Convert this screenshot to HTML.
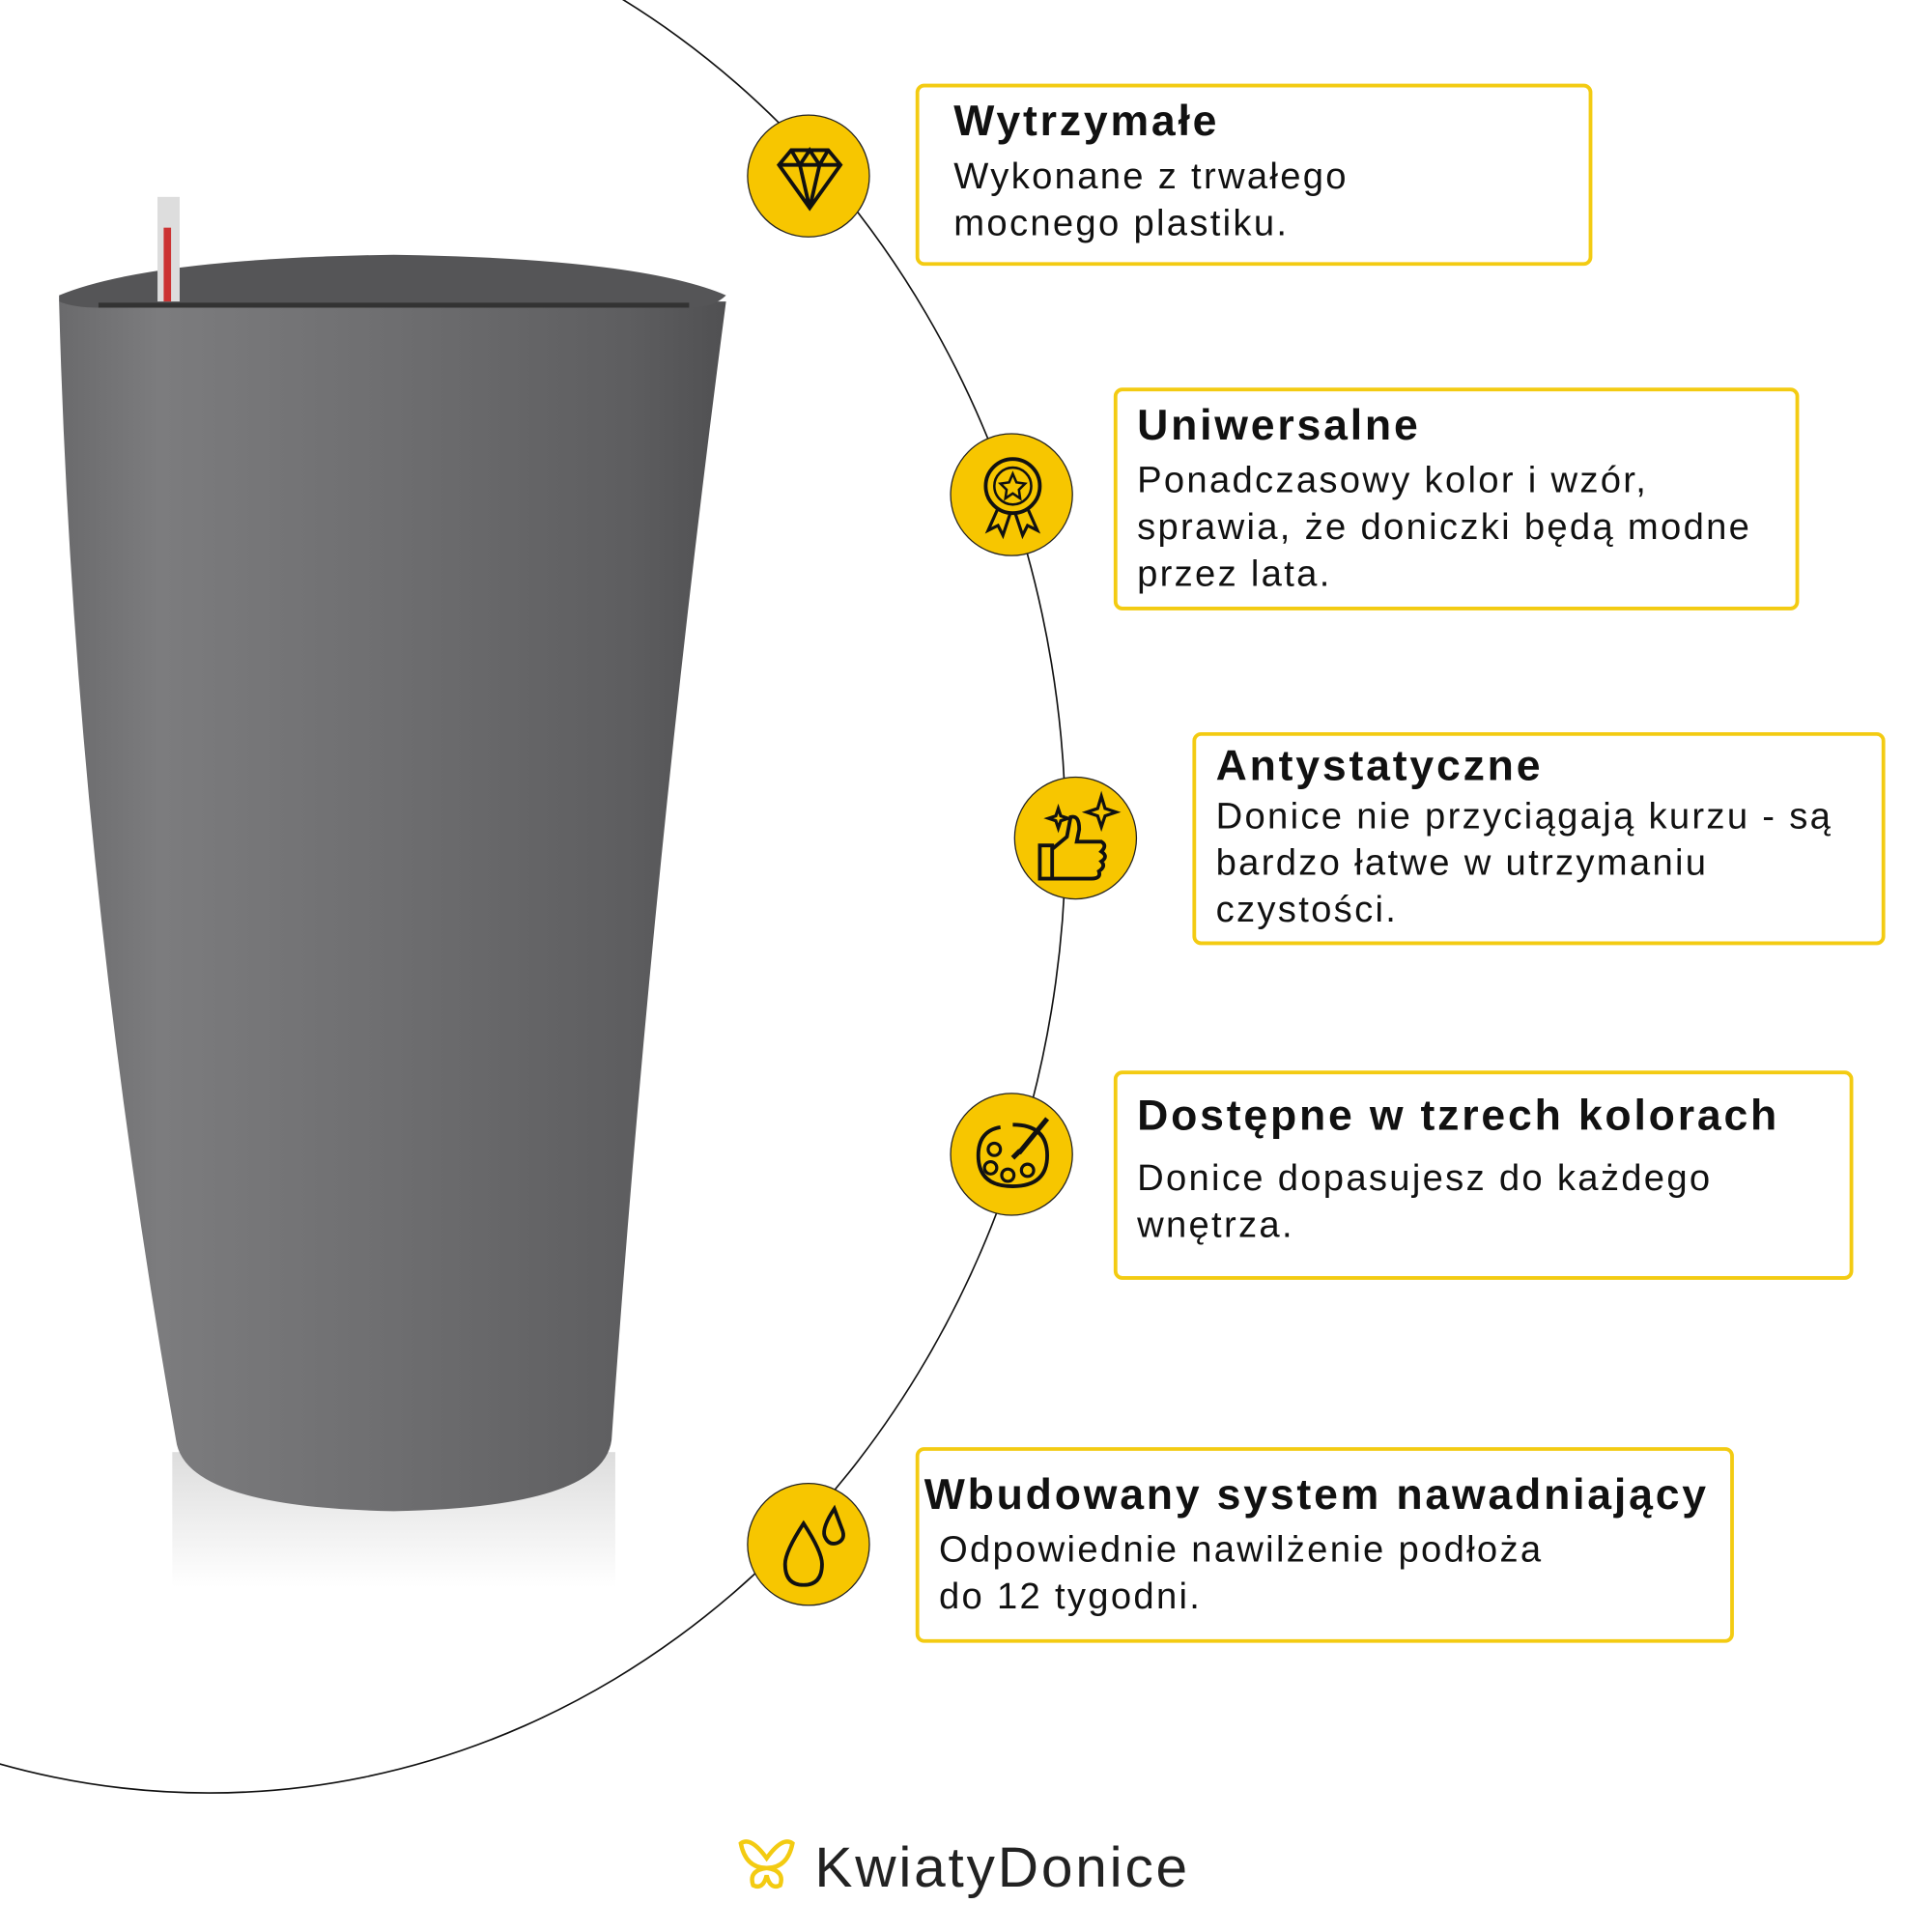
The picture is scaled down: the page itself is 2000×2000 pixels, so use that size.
<!DOCTYPE html>
<html><head><meta charset="utf-8"><style>
html,body{margin:0;padding:0;background:#fff;}
#w{width:1570px;height:1570px;position:relative;transform:scale(1.27389);transform-origin:0 0;font-family:"Liberation Sans",sans-serif;color:#111;overflow:hidden}
.b{position:absolute;border:3px solid #f3cb12;border-radius:7px;box-sizing:border-box;padding:8px 0 0 16px}
.b h{display:block;font-weight:bold;font-size:35px;line-height:40px;letter-spacing:2.2px}
.b p{margin:6px 0 0;font-size:30px;line-height:38px;letter-spacing:1.8px}
.c{position:absolute;width:100px;height:100px;border-radius:50%;background:#f7c600;border:1.5px solid #222;box-sizing:border-box}
</style></head><body><div id="w">
<svg width="1570" height="1570" style="position:absolute;left:0;top:0">
<defs>
<linearGradient id="g" x1="0" x2="1">
<stop offset="0" stop-color="#6a6a6c"/><stop offset="0.15" stop-color="#7c7c7e"/><stop offset="0.5" stop-color="#6e6e70"/><stop offset="0.85" stop-color="#5e5e60"/><stop offset="1" stop-color="#505052"/></linearGradient>
<linearGradient id="s" x1="0" y1="0" x2="0" y2="1"><stop offset="0" stop-color="#ddd"/><stop offset="1" stop-color="#fff"/></linearGradient>
</defs>
<ellipse cx="170" cy="680" rx="696" ry="777" fill="none" stroke="#111" stroke-width="1.3"/>
<rect x="140" y="1180" width="360" height="110" fill="url(#s)"/>
<path d="M48 245 Q60 700 143 1170 Q150 1225 320 1228 Q490 1225 497 1170 Q530 700 590 245 Z" fill="url(#g)"/>
<path d="M48 240 Q120 210 320 207 Q520 210 590 240 Q580 250 560 250 L80 250 Q60 250 48 245Z" fill="#555557"/>
<path d="M80 248 L560 248" stroke="#333" stroke-width="4"/>
<rect x="128" y="160" width="18" height="85" fill="#ddd"/>
<rect x="133" y="185" width="6" height="60" fill="#c33"/>
</svg>
<div class="c" style="left:607px;top:93px"><svg width="100" height="100" viewBox="0 0 100 100"><path d="M25 40 L35 28 H65 L75 40 L50 75 Z M25 40 H75 M35 28 L42 40 L50 75 L58 40 L65 28 M42 40 L50 28 L58 40" fill="none" stroke="#111" stroke-width="3"/></svg></div>
<div class="c" style="left:772px;top:352px"><svg width="100" height="100" viewBox="0 0 100 100"><circle cx="50" cy="42" r="22" fill="none" stroke="#111" stroke-width="3"/><circle cx="50" cy="42" r="15" fill="none" stroke="#111" stroke-width="2"/><path d="M50 32 L53 39 L60 40 L55 45 L56 52 L50 48 L44 52 L45 45 L40 40 L47 39Z" fill="none" stroke="#111" stroke-width="2"/><path d="M38 60 L30 78 L38 74 L42 82 L48 64 M62 60 L70 78 L62 74 L58 82 L52 64" fill="none" stroke="#111" stroke-width="2.5"/></svg></div>
<div class="c" style="left:824px;top:631px"><svg width="100" height="100" viewBox="0 0 100 100"><path d="M20 55 H30 V82 H20Z M30 58 L42 48 L45 32 Q52 30 52 42 L50 52 H70 Q75 55 70 60 Q76 64 70 68 Q74 72 68 76 Q70 82 62 82 H30" fill="none" stroke="#111" stroke-width="3"/><path d="M70 15 L73 25 L82 28 L73 31 L70 40 L67 31 L58 28 L67 25Z M35 25 L37 31 L43 33 L37 35 L35 41 L33 35 L27 33 L33 31Z" fill="none" stroke="#111" stroke-width="2.5"/></svg></div>
<div class="c" style="left:772px;top:888px"><svg width="100" height="100" viewBox="0 0 100 100"><path d="M50 25 Q78 25 78 50 Q78 75 50 75 Q22 75 22 50 Q22 30 40 27" fill="none" stroke="#111" stroke-width="3"/><circle cx="35" cy="45" r="5" fill="none" stroke="#111" stroke-width="2.5"/><circle cx="32" cy="60" r="5" fill="none" stroke="#111" stroke-width="2.5"/><circle cx="46" cy="66" r="5" fill="none" stroke="#111" stroke-width="2.5"/><circle cx="62" cy="62" r="5" fill="none" stroke="#111" stroke-width="2.5"/><path d="M78 20 L55 48 M50 52 L56 46" stroke="#111" stroke-width="4"/></svg></div>
<div class="c" style="left:607px;top:1205px"><svg width="100" height="100" viewBox="0 0 100 100"><path d="M45 32 Q30 55 30 65 Q30 82 45 82 Q60 82 60 65 Q60 55 45 32Z M70 20 Q60 35 62 42 Q65 50 72 48 Q80 45 76 36Z" fill="none" stroke="#111" stroke-width="3"/></svg></div>
<div class="b" style="left:744px;top:68px;width:550px;height:148px;padding-left:28px"><h>Wytrzymałe</h><p>Wykonane z trwałego<br>mocnego plastiku.</p></div>
<div class="b" style="left:905px;top:315px;width:557px;height:181px"><h>Uniwersalne</h><p>Ponadczasowy kolor i wzór,<br>sprawia, że doniczki będą modne<br>przez lata.</p></div>
<div class="b" style="left:969px;top:595px;width:563px;height:173px;padding-top:5px"><h>Antystatyczne</h><p style="margin-top:2px">Donice nie przyciągają kurzu - są<br>bardzo łatwe w utrzymaniu<br>czystości.</p></div>
<div class="b" style="left:905px;top:870px;width:601px;height:170px;padding-top:14px"><h>Dostępne w tzrech kolorach</h><p style="margin-top:12px">Donice dopasujesz do każdego<br>wnętrza.</p></div>
<div class="b" style="left:744px;top:1176px;width:665px;height:159px;padding-left:4px;padding-top:16px"><h>Wbudowany system nawadniający</h><p style="padding-left:12px;margin-top:6px">Odpowiednie nawilżenie podłoża<br>do 12 tygodni.</p></div>
<svg width="50" height="50" style="position:absolute;left:598px;top:1490px" viewBox="0 0 50 50"><path d="M25 20 Q12 2 4 8 Q8 28 25 28 Q42 28 46 8 Q38 2 25 20Z M25 28 Q10 30 14 42 Q22 46 25 34 Q28 46 36 42 Q40 30 25 28Z" fill="none" stroke="#f3cb12" stroke-width="3.5"/></svg>
<div style="position:absolute;left:662px;top:1490px;font-size:46px;color:#222;letter-spacing:2.2px">KwiatyDonice</div>
</div></body></html>
